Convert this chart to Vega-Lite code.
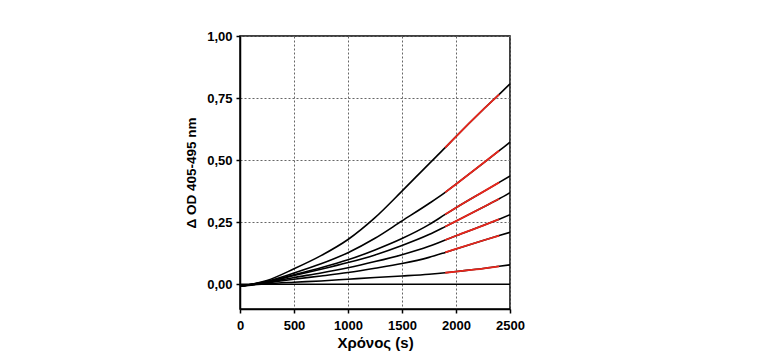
{
  "$schema": "https://vega.github.io/schema/vega-lite/v6.json",
  "autosize": {"type": "none"},
  "padding": {"left": 240, "top": 36, "right": 268, "bottom": 54},
  "width": 270,
  "height": 273,
  "background": "white",
  "config": {
    "font": "Liberation Sans",
    "view": {"stroke": "black", "strokeWidth": 1.5},
    "axis": {
      "domainColor": "black", "domainWidth": 1.5,
      "tickColor": "black", "tickWidth": 1.5, "tickSize": 4,
      "labelFont": "Liberation Sans", "labelFontSize": 13, "labelFontWeight": "bold", "labelColor": "black",
      "titleFont": "Liberation Sans", "titleFontSize": 13.5, "titleFontWeight": "bold", "titleColor": "black",
      "gridColor": "#666", "gridDash": [2, 2], "gridWidth": 1
    }
  },
  "data": {"values": [
    {"s": "c1", "t": 0, "v": -0.008}, {"s": "c1", "t": 250, "v": 0.015}, {"s": "c1", "t": 500, "v": 0.062}, {"s": "c1", "t": 750, "v": 0.115}, {"s": "c1", "t": 1000, "v": 0.18}, {"s": "c1", "t": 1250, "v": 0.268}, {"s": "c1", "t": 1500, "v": 0.375}, {"s": "c1", "t": 1750, "v": 0.485}, {"s": "c1", "t": 1900, "v": 0.55}, {"s": "c1", "t": 2000, "v": 0.595}, {"s": "c1", "t": 2250, "v": 0.703}, {"s": "c1", "t": 2400, "v": 0.765}, {"s": "c1", "t": 2500, "v": 0.807},
    {"s": "c2", "t": 0, "v": -0.008}, {"s": "c2", "t": 250, "v": 0.012}, {"s": "c2", "t": 500, "v": 0.045}, {"s": "c2", "t": 750, "v": 0.082}, {"s": "c2", "t": 1000, "v": 0.127}, {"s": "c2", "t": 1250, "v": 0.185}, {"s": "c2", "t": 1500, "v": 0.255}, {"s": "c2", "t": 1750, "v": 0.325}, {"s": "c2", "t": 1900, "v": 0.37}, {"s": "c2", "t": 2000, "v": 0.403}, {"s": "c2", "t": 2250, "v": 0.487}, {"s": "c2", "t": 2400, "v": 0.538}, {"s": "c2", "t": 2500, "v": 0.572},
    {"s": "c3", "t": 0, "v": -0.008}, {"s": "c3", "t": 250, "v": 0.01}, {"s": "c3", "t": 500, "v": 0.038}, {"s": "c3", "t": 750, "v": 0.066}, {"s": "c3", "t": 1000, "v": 0.098}, {"s": "c3", "t": 1250, "v": 0.138}, {"s": "c3", "t": 1500, "v": 0.184}, {"s": "c3", "t": 1750, "v": 0.24}, {"s": "c3", "t": 1900, "v": 0.281}, {"s": "c3", "t": 2000, "v": 0.308}, {"s": "c3", "t": 2250, "v": 0.372}, {"s": "c3", "t": 2400, "v": 0.41}, {"s": "c3", "t": 2500, "v": 0.436},
    {"s": "c4", "t": 0, "v": -0.008}, {"s": "c4", "t": 250, "v": 0.009}, {"s": "c4", "t": 500, "v": 0.035}, {"s": "c4", "t": 750, "v": 0.06}, {"s": "c4", "t": 1000, "v": 0.087}, {"s": "c4", "t": 1250, "v": 0.118}, {"s": "c4", "t": 1500, "v": 0.156}, {"s": "c4", "t": 1750, "v": 0.2}, {"s": "c4", "t": 1900, "v": 0.232}, {"s": "c4", "t": 2000, "v": 0.254}, {"s": "c4", "t": 2250, "v": 0.31}, {"s": "c4", "t": 2400, "v": 0.344}, {"s": "c4", "t": 2500, "v": 0.369},
    {"s": "c5", "t": 0, "v": -0.008}, {"s": "c5", "t": 250, "v": 0.007}, {"s": "c5", "t": 500, "v": 0.027}, {"s": "c5", "t": 750, "v": 0.045}, {"s": "c5", "t": 1000, "v": 0.066}, {"s": "c5", "t": 1250, "v": 0.091}, {"s": "c5", "t": 1500, "v": 0.119}, {"s": "c5", "t": 1750, "v": 0.153}, {"s": "c5", "t": 1900, "v": 0.178}, {"s": "c5", "t": 2000, "v": 0.195}, {"s": "c5", "t": 2250, "v": 0.236}, {"s": "c5", "t": 2400, "v": 0.262}, {"s": "c5", "t": 2500, "v": 0.28},
    {"s": "c6", "t": 0, "v": -0.008}, {"s": "c6", "t": 250, "v": 0.005}, {"s": "c6", "t": 500, "v": 0.02}, {"s": "c6", "t": 750, "v": 0.033}, {"s": "c6", "t": 1000, "v": 0.047}, {"s": "c6", "t": 1250, "v": 0.064}, {"s": "c6", "t": 1500, "v": 0.083}, {"s": "c6", "t": 1750, "v": 0.108}, {"s": "c6", "t": 1900, "v": 0.128}, {"s": "c6", "t": 2000, "v": 0.142}, {"s": "c6", "t": 2250, "v": 0.176}, {"s": "c6", "t": 2400, "v": 0.196}, {"s": "c6", "t": 2500, "v": 0.209},
    {"s": "c7", "t": 0, "v": -0.008}, {"s": "c7", "t": 250, "v": 0.002}, {"s": "c7", "t": 500, "v": 0.008}, {"s": "c7", "t": 750, "v": 0.013}, {"s": "c7", "t": 1000, "v": 0.02}, {"s": "c7", "t": 1250, "v": 0.027}, {"s": "c7", "t": 1500, "v": 0.033}, {"s": "c7", "t": 1750, "v": 0.04}, {"s": "c7", "t": 1900, "v": 0.046}, {"s": "c7", "t": 2000, "v": 0.051}, {"s": "c7", "t": 2250, "v": 0.063}, {"s": "c7", "t": 2400, "v": 0.072}, {"s": "c7", "t": 2500, "v": 0.078},
    {"s": "c0", "t": 0, "v": 0}, {"s": "c0", "t": 2500, "v": 0}
  ]},
  "encoding": {
    "x": {"field": "t", "type": "quantitative",
      "scale": {"domain": [0, 2500], "nice": false},
      "axis": {"values": [0, 500, 1000, 1500, 2000, 2500], "format": "d", "labelFlush": false, "labelOverlap": false, "title": "Χρόνος (s)", "titleFontSize": 15, "titlePadding": 3, "labelPadding": 6}},
    "y": {"field": "v", "type": "quantitative",
      "scale": {"domain": [-0.1, 1.0], "nice": false, "zero": false},
      "axis": {"values": [0, 0.25, 0.5, 0.75, 1.0], "labelExpr": "replace(format(datum.value, '.2f'), '.', ',')", "title": "Δ OD 405-495 nm", "titlePadding": 8, "labelPadding": 4}}
  },
  "layer": [
    {"mark": {"type": "line", "color": "black", "strokeWidth": 1.6, "interpolate": "monotone"},
     "encoding": {"detail": {"field": "s", "type": "nominal"}}},
    {"transform": [{"filter": "datum.t >= 1900 && datum.t <= 2400 && datum.s != 'c0'"}],
     "mark": {"type": "line", "color": "#e8261c", "strokeWidth": 1.8, "interpolate": "monotone"},
     "encoding": {"detail": {"field": "s", "type": "nominal"}}}
  ]
}
